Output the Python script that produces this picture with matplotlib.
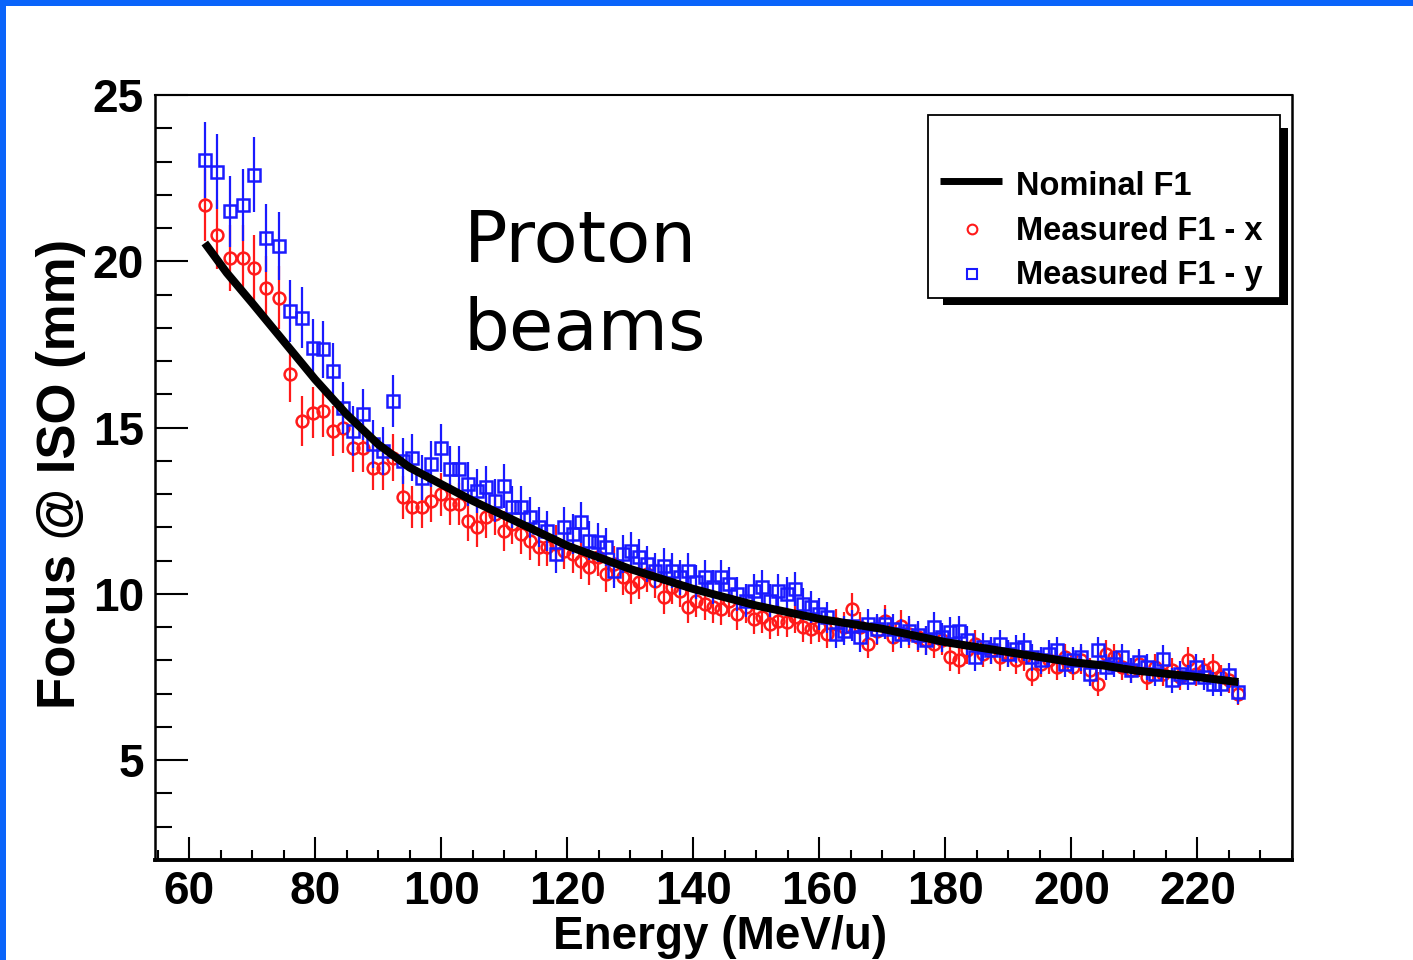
import matplotlib
matplotlib.use("Agg")
import matplotlib.pyplot as plt
from matplotlib.patches import Rectangle
from matplotlib.lines import Line2D
import numpy as np

# ---------------- data ----------------
energy = [62.5, 64.5, 66.5, 68.5, 70.3, 72.2, 74.2, 76.0, 77.9, 79.6, 81.2,
          82.8, 84.4, 86.0, 87.6, 89.2, 90.8, 92.3, 93.9, 95.4, 96.9, 98.4, 99.9,
          101.4, 102.9, 104.3, 105.7, 107.1, 108.5, 109.9, 111.3, 112.7, 114.1, 115.5, 116.8, 118.2, 119.5,
          120.9, 122.2, 123.5, 124.9, 126.2, 127.5, 128.8, 130.1, 131.4, 132.7, 134.0, 135.3, 136.6, 137.9, 139.2,
          140.5, 141.8, 143.1, 144.4, 145.7, 147.0, 148.3, 149.6, 150.9, 152.2, 153.5, 154.8, 156.1, 157.4, 158.7,
          160.0, 161.3, 162.6, 163.9, 165.2, 166.5, 167.8, 169.1, 170.4, 171.7, 173.0, 174.3, 175.6, 176.9, 178.2, 179.5,
          180.8, 182.1, 183.4, 184.7, 186.0, 187.3, 188.6, 189.9, 191.2, 192.5, 193.8, 195.1, 196.4, 197.7, 199.0,
          200.3, 201.6, 202.9, 204.2, 205.5, 206.8, 208.1, 209.4, 210.7, 212.0, 213.3, 214.6, 215.9, 217.2, 218.5,
          219.8, 221.1, 222.4, 223.7, 225.0, 226.5]

focus_x = [21.7, 20.8, 20.1, 20.1, 19.8, 19.2, 18.9, 16.6, 15.2, 15.45, 15.5,
           14.9, 15.0, 14.4, 14.4, 13.8, 13.8, 14.1, 12.9, 12.6, 12.6, 12.8, 13.0,
           12.7, 12.7, 12.2, 12.0, 12.3, 12.4, 11.9, 12.1, 11.8, 11.6, 11.4, 11.4, 11.5, 11.3,
           11.2, 11.0, 10.8, 11.1, 10.6, 10.9, 10.5, 10.2, 10.35, 10.6, 10.4, 9.9, 10.2, 10.1, 9.6,
           9.8, 9.7, 9.6, 9.55, 9.8, 9.4, 9.6, 9.25, 9.3, 9.1, 9.2, 9.15, 9.3, 9.0, 8.95,
           9.0, 8.8, 9.1, 9.0, 9.55, 9.0, 8.5, 8.9, 9.2, 8.7, 9.05, 8.8, 8.7, 8.6, 8.5, 8.6,
           8.1, 8.0, 8.3, 8.5, 8.2, 8.3, 8.1, 8.2, 8.0, 8.1, 7.6, 7.9, 8.0, 7.8, 8.1,
           7.8, 8.0, 7.7, 7.3, 8.2, 8.1, 7.8, 7.7, 7.9, 7.5, 7.8, 7.6, 7.7, 7.5, 8.0,
           7.6, 7.7, 7.8, 7.5, 7.4, 7.0]

focus_y = [23.05, 22.7, 21.5, 21.7, 22.6, 20.7, 20.45, 18.5, 18.3, 17.4, 17.35,
           16.7, 15.6, 14.9, 15.4, 14.5, 14.3, 15.8, 14.0, 14.1, 13.5, 13.9, 14.4,
           13.75, 13.75, 13.3, 13.1, 13.2, 12.8, 13.25, 12.6, 12.6, 12.3, 12.0, 11.9, 11.2, 12.0,
           11.8, 12.15, 11.6, 11.55, 11.4, 10.7, 11.2, 11.3, 11.1, 10.9, 10.7, 10.85, 10.7, 10.5, 10.7,
           10.35, 10.5, 10.2, 10.5, 10.3, 10.0, 9.8, 10.1, 10.2, 9.8, 10.1, 10.0, 10.15, 9.7, 9.6,
           9.4, 9.3, 8.8, 8.9, 9.05, 8.7, 9.1, 8.95, 9.1, 8.95, 8.8, 8.9, 8.75, 8.6, 9.0, 8.7,
           8.85, 8.9, 8.6, 8.1, 8.4, 8.3, 8.5, 8.2, 8.35, 8.4, 8.1, 8.0, 8.2, 8.3, 7.9,
           8.0, 8.1, 7.6, 8.3, 7.8, 7.9, 8.1, 7.7, 7.95, 7.8, 7.6, 8.05, 7.4, 7.6, 7.5,
           7.8, 7.5, 7.3, 7.3, 7.55, 7.05]

rel_err_x = 0.05   # relative error bar size
rel_err_y = 0.05

nominal_energy = [62.5, 66, 70, 75, 80, 85, 90, 95, 100, 105, 110, 115, 120, 125, 130,
                  135, 140, 145, 150, 155, 160, 165, 170, 175, 180, 185, 190, 195, 200,
                  205, 210, 215, 220, 226.5]
nominal_focus = [20.55, 19.65, 18.75, 17.6, 16.45, 15.4, 14.5, 13.8, 13.3, 12.8, 12.35,
                 11.9, 11.45, 11.1, 10.75, 10.45, 10.15, 9.9, 9.65, 9.45, 9.25, 9.1,
                 8.95, 8.75, 8.55, 8.4, 8.25, 8.1, 7.95, 7.85, 7.7, 7.6, 7.5, 7.35]

series_labels = ["Nominal F1", "Measured F1 - x", "Measured F1 - y"]
x_ticks = [60, 80, 100, 120, 140, 160, 180, 200, 220]
y_ticks = [5, 10, 15, 20, 25]
x_label = "Energy (MeV/u)"
y_label = "Focus @ ISO (mm)"
annotation_lines = ["Proton", "beams"]

# ---------------- figure ----------------
W, H = 1413, 960
fig = plt.figure(figsize=(W / 100, H / 100), dpi=100)
fig.patch.set_facecolor("white")


def fx(px):
    return px / W


def fy(py):
    return 1 - py / H


PT = 72 / 100  # points per pixel

# slide border (blue)
fig.patches.append(Rectangle((0, fy(6)), 1, 6 / H, transform=fig.transFigure,
                             facecolor="#0a64fa", edgecolor="none", zorder=0))
fig.patches.append(Rectangle((0, 0), 6 / W, 1, transform=fig.transFigure,
                             facecolor="#0a64fa", edgecolor="none", zorder=0))

ax = fig.add_axes([fx(155), fy(860), fx(1292) - fx(155), fy(95) - fy(860)])
ax.set_xlim(54.6, 234.9)
ax.set_ylim(2.0, 25.0)

e = np.array(energy)
fxv = np.array(focus_x)
fyv = np.array(focus_y)

red = "#ff1a1a"
blue = "#1a1aff"

ax.errorbar(e, fxv, yerr=fxv * rel_err_x, fmt="o", ms=8.5, mfc="none", mec=red,
            mew=1.8, ecolor=red, elinewidth=1.6, capsize=0, zorder=2)
ax.errorbar(e, fyv, yerr=fyv * rel_err_y, fmt="s", ms=9.3, mfc="none", mec=blue,
            mew=1.8, ecolor=blue, elinewidth=1.6, capsize=0, zorder=3)
ax.plot(nominal_energy, nominal_focus, color="black", lw=5.8, solid_capstyle="butt",
        solid_joinstyle="round", zorder=4)

# ticks
tick_font = dict(family="Liberation Sans", weight="bold", size=33)
ax.set_xticks(x_ticks)
ax.set_xticks(np.arange(55, 235.1, 5), minor=True)
ax.set_yticks(y_ticks)
ax.set_yticks(np.arange(2, 25.1, 1), minor=True)
ax.set_xticklabels([str(t) for t in x_ticks], fontdict=tick_font)
ax.set_yticklabels([str(t) for t in y_ticks], fontdict=tick_font)
ax.tick_params(axis="x", which="major", direction="in", length=23 * PT, width=1.5,
               pad=7, top=False)
ax.tick_params(axis="x", which="minor", direction="in", length=10 * PT, width=1.5,
               top=False)
ax.tick_params(axis="y", which="major", direction="in", length=33 * PT, width=1.5,
               pad=8, right=False)
ax.tick_params(axis="y", which="minor", direction="in", length=17 * PT, width=1.5,
               right=False)

for side, lw in (("left", 1.8), ("bottom", 2.8), ("top", 1.5), ("right", 1.8)):
    ax.spines[side].set_linewidth(lw)
    ax.spines[side].set_color("black")

ax.set_xlabel(x_label, fontdict=dict(family="Liberation Sans", weight="bold", size=33))
ax.xaxis.set_label_coords((720 - 155) / 1137, -(915 - 860) / 765)
ax.xaxis.label.set_va("top")
ax.set_ylabel(y_label, fontdict=dict(family="Liberation Sans", weight="bold", size=38))
ax.yaxis.set_label_coords((61 - 155) / 1137, (860 - 474) / 765)
ax.yaxis.label.set_va("center")

# annotation
for line, base in zip(annotation_lines, (262, 350)):
    fig.text(fx(464), fy(base), line, family="DejaVu Sans", size=52,
             ha="left", va="baseline")

# ---------------- legend (drawn by hand, ROOT style) ----------------
fig.patches.append(Rectangle((fx(943), fy(305)), fx(1288) - fx(943), fy(128) - fy(305),
                             transform=fig.transFigure, facecolor="black",
                             edgecolor="none", zorder=5))
fig.patches.append(Rectangle((fx(928), fy(298)), fx(1280) - fx(928), fy(115) - fy(298),
                             transform=fig.transFigure, facecolor="white",
                             edgecolor="black", lw=1.3, zorder=6))
fig.lines.append(Line2D([fx(940), fx(1002)], [fy(181), fy(181)], transform=fig.transFigure,
                        color="black", lw=5.0, solid_capstyle="butt", zorder=7))
fig.lines.append(Line2D([fx(972)], [fy(229)], transform=fig.transFigure, marker="o",
                        ms=7, mfc="none", mec=red, mew=1.5, zorder=7))
fig.lines.append(Line2D([fx(972)], [fy(274)], transform=fig.transFigure, marker="s",
                        ms=7, mfc="none", mec=blue, mew=1.5, zorder=7))
for label, base in zip(series_labels, (195, 240, 284)):
    fig.text(fx(1016), fy(base), label, family="Liberation Sans", weight="bold",
             size=23.5, ha="left", va="baseline", zorder=8)

fig.savefig("out.png", dpi=100)
